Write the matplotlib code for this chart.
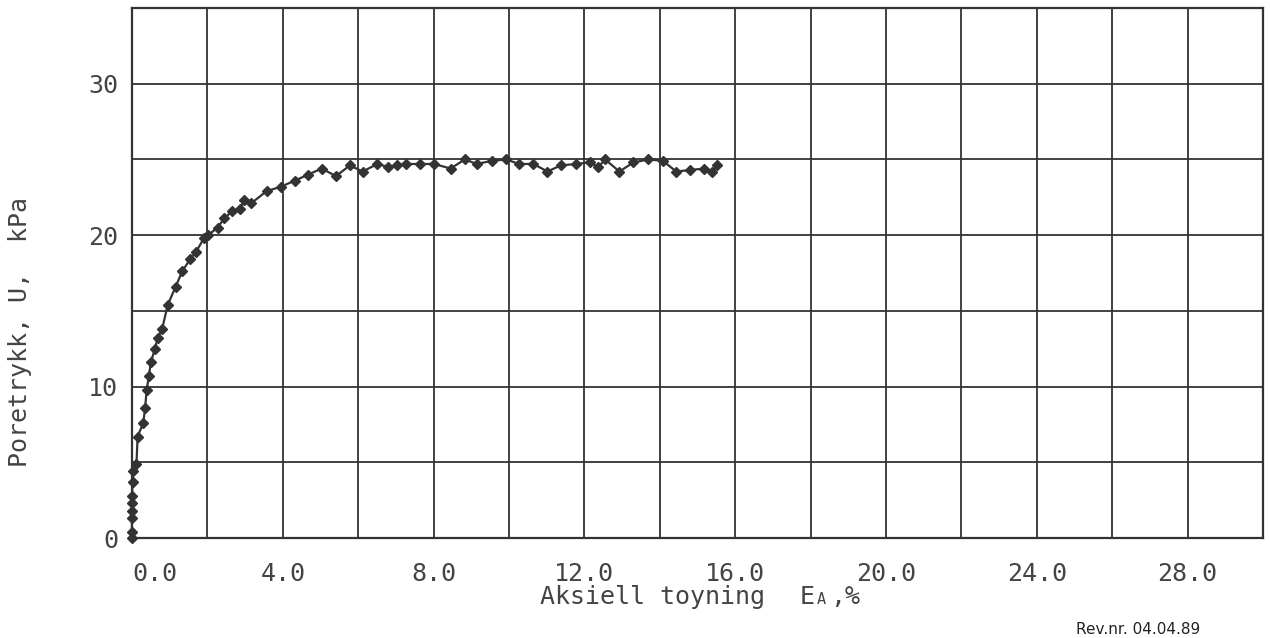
import matplotlib
matplotlib.use("Agg")
import matplotlib.pyplot as plt
import numpy as np

# aksiell toyning (%) og poretrykk (kPa), lest av figuren
toyning = [0.0, 0.0, 0.0, 0.0, 0.0, 0.0, 0.02, 0.03, 0.12, 0.15, 0.3, 0.35,
           0.39, 0.45, 0.5, 0.61, 0.68, 0.8, 0.95, 1.16, 1.33, 1.54, 1.70,
           1.91, 2.02, 2.27, 2.45, 2.66, 2.86, 2.97, 3.16, 3.57, 3.95, 4.32,
           4.68, 5.03, 5.41, 5.78, 6.12, 6.51, 6.80, 7.04, 7.27, 7.64, 8.01,
           8.45, 8.83, 9.14, 9.54, 9.92, 10.27, 10.65, 11.02, 11.37, 11.77,
           12.15, 12.37, 12.55, 12.93, 13.3, 13.7, 14.08, 14.44, 14.8, 15.18,
           15.38, 15.53]
poretrykk = [0.0, 0.4, 1.3, 1.8, 2.3, 2.8, 3.7, 4.4, 4.9, 6.7, 7.6, 8.6,
             9.8, 10.7, 11.6, 12.5, 13.2, 13.8, 15.4, 16.6, 17.6, 18.4, 18.9,
             19.8, 20.0, 20.5, 21.1, 21.6, 21.7, 22.3, 22.1, 22.9, 23.2, 23.6,
             24.0, 24.4, 23.9, 24.6, 24.2, 24.7, 24.5, 24.6, 24.7, 24.7, 24.7,
             24.4, 25.0, 24.7, 24.9, 25.0, 24.7, 24.7, 24.2, 24.6, 24.7,
             24.8, 24.5, 25.0, 24.2, 24.8, 25.0, 24.9, 24.2, 24.3, 24.4,
             24.2, 24.6]

x_ticks = [0, 4, 8, 12, 16, 20, 24, 28]
x_labels = ["0.0", "4.0", "8.0", "12.0", "16.0", "20.0", "24.0", "28.0"]
y_ticks = [0, 10, 20, 30]
y_labels = ["0", "10", "20", "30"]

ink = "#333333"
txt = "#444444"
mono = "DejaVu Sans Mono"

fig = plt.figure(figsize=(12.7, 6.38), dpi=100)
ax = fig.add_axes([0.1039, 0.1567, 0.8906, 0.8308])

ax.plot(toyning, poretrykk, color=ink, lw=1.6, marker="D", ms=4.8,
        mec=ink, mfc=ink, clip_on=False, zorder=3)

ax.set_xlim(0, 30)
ax.set_ylim(0, 35)

# rutenett hver 2 % og hver 5 kPa
for gx in np.arange(2, 30, 2):
    ax.axvline(gx, color=ink, lw=1.3, zorder=1)
for gy in np.arange(5, 35, 5):
    ax.axhline(gy, color=ink, lw=1.3, zorder=1)

for s in ax.spines.values():
    s.set_color(ink)
    s.set_linewidth(1.6)

ax.set_xticks(x_ticks)
ax.set_xticklabels(x_labels, fontfamily=mono, fontsize=18, color=txt)
ax.set_yticks(y_ticks)
ax.set_yticklabels(y_labels, fontfamily=mono, fontsize=18, color=txt)
ax.tick_params(length=0, pad=17, axis="x")
ax.tick_params(length=0, pad=10, axis="y")
ax.get_xticklabels()[0].set_horizontalalignment("left")

fig.text(0.0157, 0.48, "Poretrykk, U,  kPa", rotation=90, ha="center",
         va="center", fontfamily=mono, fontsize=18, color=txt)

fig.text(540 / 1270, 1 - 597 / 638, "Aksiell toyning", ha="left",
         va="center", fontfamily=mono, fontsize=18, color=txt)
fig.text(800 / 1270, 1 - 597 / 638, "E", ha="left", va="center",
         fontfamily=mono, fontsize=18, color=txt)
fig.text(817 / 1270, 1 - 599 / 638, "A", ha="left", va="center",
         fontfamily=mono, fontsize=11, color=txt)
fig.text(830 / 1270, 1 - 597 / 638, ",%", ha="left", va="center",
         fontfamily=mono, fontsize=18, color=txt)

fig.text(1076 / 1270, 1 - 622 / 638, "Rev.nr. 04.04.89", ha="left",
         va="top", fontsize=11, color="#222222")

fig.savefig("out.png", dpi=100, facecolor="white")
